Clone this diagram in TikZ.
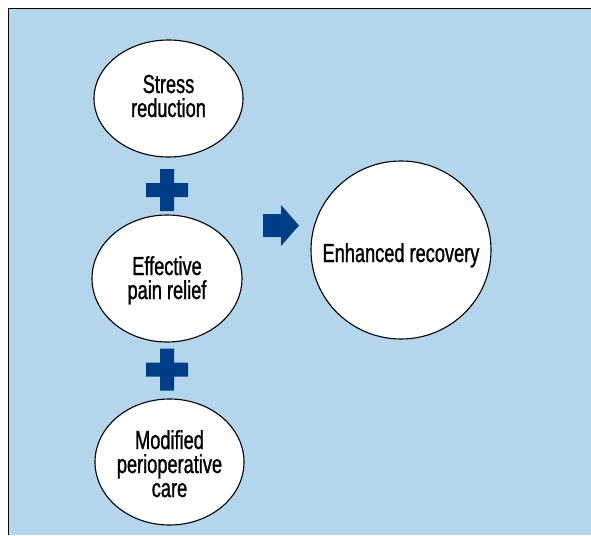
\documentclass[tikz,border=0pt]{standalone}
\usepackage{fontspec}
\usetikzlibrary{shapes.geometric}
\newfontfamily\condfont[FakeStretch=0.70,FakeBold=1.1]{Liberation Sans}
\definecolor{panelblue}{RGB}{180,214,237}
\definecolor{darkblue}{RGB}{0,61,135}
\tikzset{
  bubble/.style={ellipse, draw=black, line width=1.1pt, fill=white, inner sep=0pt},
  bubbletext/.style={inner sep=0pt, align=center, anchor=base, font=\condfont\fontsize{26}{24}\selectfont},
  plusmark/.style={fill=darkblue},
}
\begin{document}
\begin{tikzpicture}[x=1pt,y=-1pt]
\useasboundingbox (0,0) rectangle (591,535);
\fill[panelblue] (8,9) rectangle (591,535);
\draw[line width=1pt] (8,535) -- (8,9) -- (591,9);

\node[bubble, minimum width=149pt, minimum height=117pt] (stress) at (168.5,98.5) {};
\node[bubble, minimum width=150pt, minimum height=127pt] (pain) at (167,278.5) {};
\node[bubble, minimum width=149pt, minimum height=126pt] (care) at (169.5,462) {};
\node[bubble, minimum width=180pt, minimum height=178pt] (recovery) at (401,250) {};

\node[bubbletext] (stresst) at (168.5,117) {Stress\\reduction};
\node[bubbletext] (paint) at (167,299) {Effective\\pain relief};
\node[bubbletext] (caret) at (169.5,497) {Modified\\perioperative\\care};
\node[bubbletext] (recoveryt) at (401,262) {Enhanced recovery};

\coordinate (p1) at (167,190);
\coordinate (p2) at (167,369.5);
\foreach \p in {p1,p2}{
  \fill[plusmark] ([shift={(-7,-21)}]\p) -- ++(14,0) -- ++(0,14) -- ++(14,0) -- ++(0,14) -- ++(-14,0)
    -- ++(0,14) -- ++(-14,0) -- ++(0,-14) -- ++(-14,0) -- ++(0,-14) -- ++(14,0) -- cycle;
}
\coordinate (arr) at (263,225.5);
\fill[plusmark] ([shift={(0,-11.5)}]arr) -- ++(18,0) -- ++(0,-9) -- ++(18,20.5) -- ++(-18,20.5)
  -- ++(0,-9) -- ++(-18,0) -- cycle;
\end{tikzpicture}
\end{document}
